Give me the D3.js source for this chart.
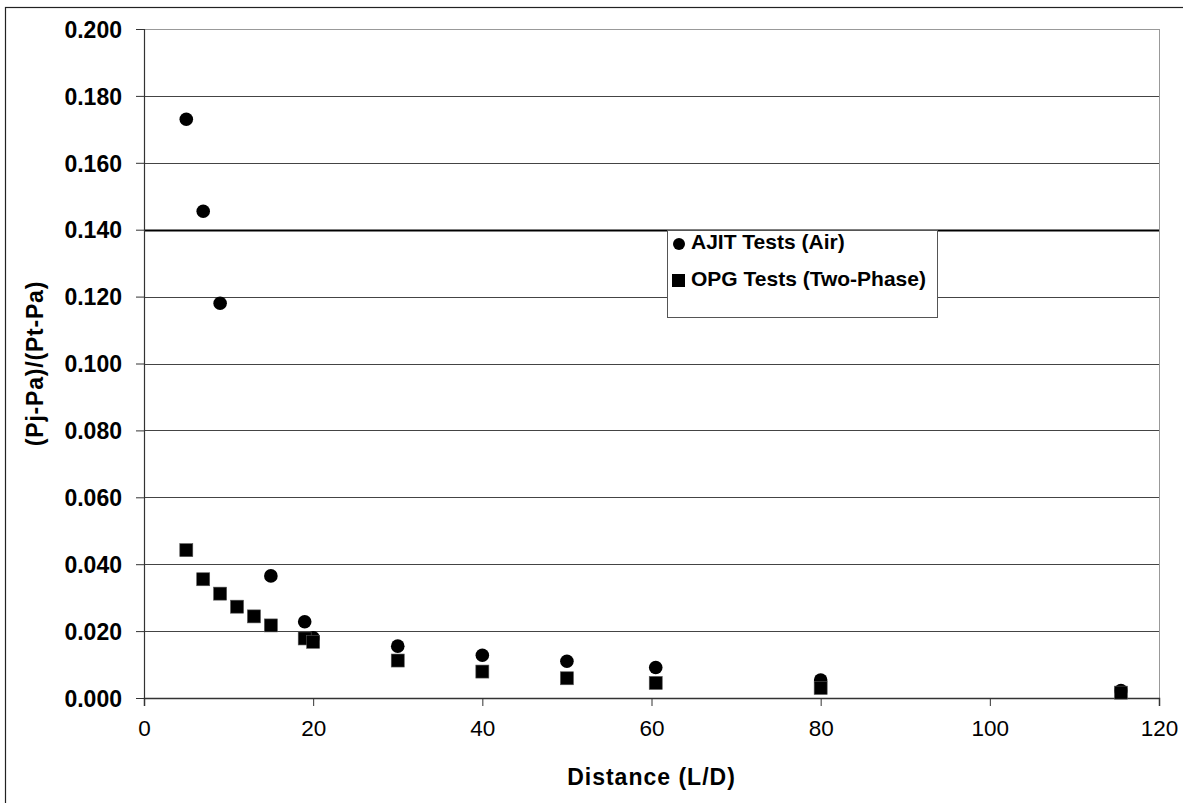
<!DOCTYPE html>
<html>
<head>
<meta charset="utf-8">
<script src="https://cdn.jsdelivr.net/npm/d3@7"></script>
<style>
  body { margin: 0; background: #fff; }
  text { font-family: "Liberation Sans", Arial, sans-serif; fill: #000; }
</style>
</head>
<body>
<div id="chart"></div>
<script>
// series
const ajitX = [5, 7, 9, 15, 19, 20, 30, 40, 50, 60.5, 80, 115.5];
const ajitY = [0.173, 0.1455, 0.118, 0.0365, 0.0228, 0.018, 0.0155, 0.0128, 0.011, 0.0091, 0.0054, 0.0022];
const opgX = [5, 7, 9, 11, 13, 15, 19, 20, 30, 40, 50, 60.5, 80, 115.5];
const opgY = [0.0442, 0.0355, 0.0312, 0.0273, 0.0244, 0.0217, 0.0178, 0.0168, 0.0112, 0.0079, 0.0059, 0.0045, 0.003, 0.0016];
const xTicks = [0, 20, 40, 60, 80, 100, 120];
const yTicks = [0, 0.02, 0.04, 0.06, 0.08, 0.1, 0.12, 0.14, 0.16, 0.18, 0.2];
const seriesNames = ["AJIT Tests (Air)", "OPG Tests (Two-Phase)"];

const W = 1183, H = 803;
const margin = { left: 144, top: 29, right: W - 1159, bottom: H - 698 };
const iw = W - margin.left - margin.right,
      ih = H - margin.top - margin.bottom;

const svg = d3.select("#chart").append("svg")
    .attr("width", W)
    .attr("height", H);

// outer chart frame
svg.append("rect")
    .attr("x", 5.5).attr("y", 7.5)
    .attr("width", W + 10).attr("height", H + 10)
    .attr("fill", "none")
    .attr("stroke", "#222")
    .attr("stroke-width", 1.2);

const g = svg.append("g")
    .attr("transform", `translate(${margin.left}, ${margin.top})`);

const x = d3.scaleLinear().domain([0, 120]).range([0, iw]);
const y = d3.scaleLinear().domain([0, 0.2]).range([ih, 0]);

// gridlines
g.append("g").selectAll("line")
    .data(yTicks.filter(t => t > 0))
    .join("line")
    .attr("x1", 0).attr("x2", iw)
    .attr("y1", d => Math.round(y(d)) + 0.5)
    .attr("y2", d => Math.round(y(d)) + 0.5)
    .attr("stroke", d => d === 0.2 ? "#999" : (Math.abs(d - 0.14) < 1e-9 ? "#000" : "#444"))
    .attr("stroke-width", d => Math.abs(d - 0.14) < 1e-9 ? 1.8 : 1);

// right border of plot
g.append("line")
    .attr("x1", iw + 0.5).attr("x2", iw + 0.5)
    .attr("y1", 0).attr("y2", ih)
    .attr("stroke", "#999");

// y axis
const yAxis = g.append("g")
    .call(d3.axisLeft(y).tickValues(yTicks).tickFormat(d3.format(".3f")).tickSize(8).tickPadding(14));
yAxis.select(".domain").attr("stroke", "#333").attr("stroke-width", 1.2);
yAxis.selectAll(".tick line").attr("stroke", "#333");
yAxis.selectAll("text")
    .attr("font-family", "Liberation Sans, Arial, sans-serif")
    .attr("font-weight", "bold")
    .attr("font-size", 23)
    .attr("dy", "0.36em");

// x axis
const xAxis = g.append("g")
    .attr("transform", `translate(0, ${ih})`)
    .call(d3.axisBottom(x).tickValues(xTicks).tickSize(8).tickPadding(14));
xAxis.select(".domain").attr("stroke", "#333").attr("stroke-width", 1.5);
xAxis.selectAll(".tick line").attr("stroke", "#333");
xAxis.selectAll("text")
    .attr("font-family", "Liberation Sans, Arial, sans-serif")
    .attr("font-size", 22.5);

// axis titles
svg.append("text")
    .attr("x", margin.left + iw / 2)
    .attr("y", 785)
    .attr("text-anchor", "middle")
    .attr("font-weight", "bold")
    .attr("font-size", 23)
    .attr("letter-spacing", 1)
    .text("Distance (L/D)");

svg.append("text")
    .attr("transform", `translate(43, ${margin.top + ih / 2}) rotate(-90)`)
    .attr("text-anchor", "middle")
    .attr("font-weight", "bold")
    .attr("font-size", 23)
    .attr("letter-spacing", 0.8)
    .text("(Pj-Pa)/(Pt-Pa)");

// markers
const ajit = ajitX.map((d, i) => ({ x: d, y: ajitY[i] }));
const opg = opgX.map((d, i) => ({ x: d, y: opgY[i] }));

g.append("g").selectAll("circle")
    .data(ajit)
    .join("circle")
    .attr("cx", d => x(d.x))
    .attr("cy", d => y(d.y))
    .attr("r", 6.8)
    .attr("fill", "#000");

const sq = 13;
g.append("g").selectAll("rect")
    .data(opg)
    .join("rect")
    .attr("x", d => x(d.x) - sq / 2)
    .attr("y", d => y(d.y) - sq / 2)
    .attr("width", sq)
    .attr("height", sq)
    .attr("fill", "#000")
    .attr("stroke", "#555")
    .attr("stroke-width", 0.6);

// legend
const legend = svg.append("g").attr("transform", "translate(667, 230)");
legend.append("rect")
    .attr("x", 0.5).attr("y", 0.5)
    .attr("width", 270).attr("height", 87)
    .attr("fill", "#fff")
    .attr("stroke", "#555");

legend.append("circle")
    .attr("cx", 12).attr("cy", 14)
    .attr("r", 6)
    .attr("fill", "#000");
legend.append("rect")
    .attr("x", 5).attr("y", 44)
    .attr("width", 13).attr("height", 13)
    .attr("fill", "#000");

legend.selectAll("text.lbl")
    .data(seriesNames)
    .join("text")
    .attr("class", "lbl")
    .attr("x", 24)
    .attr("y", (d, i) => 19 + i * 37)
    .attr("font-weight", "bold")
    .attr("font-size", 21)
    .text(d => d);
</script>
</body>
</html>
